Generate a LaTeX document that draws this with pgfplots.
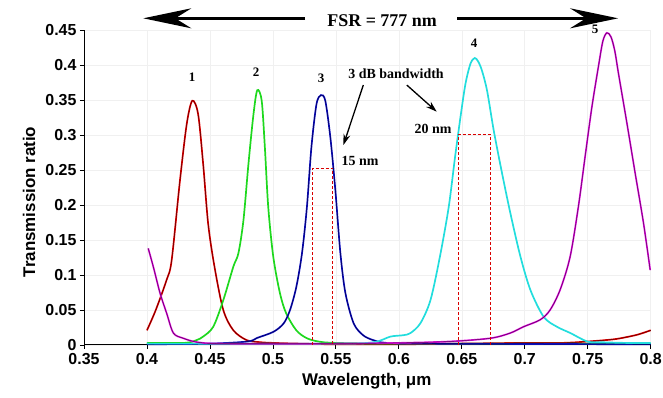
\documentclass[border=0pt]{standalone}
\usepackage{fontspec}
\setmainfont{Liberation Serif}
\setsansfont{Liberation Sans}
\usepackage{pgfplots}
\usepackage{pgfplotstable}
\pgfplotsset{compat=1.18}
\usetikzlibrary{arrows.meta}

\pgfplotstableread{
x y
0.400 0.021
0.407 0.050
0.4156 0.093
0.4196 0.121
0.4262 0.235
0.4316 0.316
0.4360 0.349
0.4406 0.330
0.4446 0.259
0.4486 0.173
0.4536 0.112
0.4606 0.050
0.4686 0.021
0.4791 0.007
0.490 0.004
0.500 0.003
0.520 0.002
0.550 0.001
0.600 0.001
0.650 0.002
0.700 0.003
0.730 0.003
0.750 0.005
0.770 0.008
0.780 0.011
0.790 0.015
0.800 0.021
}\dataA

\pgfplotstableread{
x y
0.400 0.003
0.430 0.003
0.4394 0.007
0.4446 0.012
0.4526 0.026
0.4606 0.064
0.4686 0.112
0.4726 0.131
0.4766 0.178
0.4806 0.259
0.4846 0.330
0.4876 0.364
0.4911 0.349
0.4936 0.283
0.4963 0.197
0.5003 0.126
0.5056 0.074
0.5106 0.045
0.5186 0.021
0.5266 0.010
0.536 0.005
0.550 0.003
0.600 0.002
0.800 0.002
}\dataB

\pgfplotstableread{
x y
0.400 0.001
0.450 0.002
0.480 0.005
0.4873 0.010
0.5006 0.019
0.5086 0.031
0.5136 0.050
0.5186 0.083
0.5231 0.131
0.5270 0.197
0.5306 0.283
0.5346 0.344
0.5382 0.357
0.5416 0.349
0.5456 0.297
0.5496 0.221
0.5536 0.131
0.5576 0.074
0.5641 0.031
0.5716 0.014
0.5796 0.007
0.590 0.003
0.620 0.002
0.800 0.001
}\dataC

\pgfplotstableread{
x y
0.400 0.002
0.550 0.002
0.580 0.004
0.5933 0.012
0.6036 0.014
0.6092 0.017
0.6171 0.031
0.6251 0.064
0.6326 0.126
0.6396 0.197
0.6446 0.268
0.6489 0.325
0.6529 0.373
0.6569 0.402
0.6603 0.410
0.6630 0.405
0.6660 0.392
0.6701 0.363
0.6754 0.306
0.6820 0.245
0.6886 0.188
0.6966 0.126
0.7046 0.078
0.7151 0.040
0.7256 0.026
0.7363 0.017
0.7496 0.005
0.760 0.004
0.780 0.003
0.800 0.003
}\dataD

\pgfplotstableread{
x y
0.401 0.138
0.405 0.112
0.4104 0.074
0.4157 0.045
0.421 0.017
0.4289 0.0096
0.440 0.004
0.460 0.002
0.550 0.002
0.600 0.003
0.640 0.005
0.6725 0.0096
0.6884 0.017
0.6989 0.026
0.7122 0.036
0.7201 0.050
0.7281 0.079
0.7360 0.126
0.7426 0.198
0.7479 0.269
0.7533 0.340
0.7585 0.398
0.7620 0.434
0.7652 0.446
0.7685 0.440
0.7715 0.420
0.7744 0.388
0.7811 0.317
0.7877 0.245
0.7943 0.174
0.7996 0.107
}\dataE

\definecolor{cRed}{HTML}{E80000}
\definecolor{cGreen}{HTML}{1ED81E}
\definecolor{cBlue}{HTML}{1010C8}
\definecolor{cCyan}{HTML}{22DDDD}
\definecolor{cMag}{HTML}{DD10DD}

\begin{document}
\begin{tikzpicture}
\useasboundingbox (0,0) rectangle (663bp,398bp);
\begin{axis}[
  at={(84bp,53bp)}, anchor=south west,
  scale only axis, width=566.7bp, height=315bp,
  xmin=0.35, xmax=0.8, ymin=0, ymax=0.45,
  xtick={0.35,0.4,0.45,0.5,0.55,0.6,0.65,0.7,0.75,0.8},
  ytick={0,0.05,0.1,0.15,0.2,0.25,0.3,0.35,0.4,0.45},
  axis lines*=left,
  axis line style={line width=1bp, black},
  tick align=outside, major tick length=4bp,
  tick style={line width=0.8bp, black},
  grid=major, grid style={draw=gray!12, line width=0.6bp},
  /pgf/number format/assume math mode=true,
  /pgf/number format/fixed,
  tick label style={font=\sffamily\bfseries\fontsize{16}{16}\selectfont},
  xticklabel style={yshift=-1bp},
  xlabel={Wavelength, μm},
  ylabel={Transmission ratio},
  label style={font=\sffamily\bfseries\fontsize{17}{17}\selectfont},
  xlabel style={at={(axis description cs:0.499,-0.114)}, anchor=center},
  ylabel style={at={(axis description cs:-0.097,0.454)}, anchor=center},
  clip=false,
  no markers,
]
\addplot[cRed, line width=1.7bp, smooth] table {\dataA};
\addplot[black!70!red, line width=0.5bp, smooth] table {\dataA};
\addplot[cGreen, line width=1.7bp, smooth] table {\dataB};
\addplot[cBlue, line width=1.7bp, smooth] table {\dataC};
\addplot[black!70!blue, line width=0.5bp, smooth] table {\dataC};
\addplot[cCyan, line width=1.7bp, smooth] table {\dataD};
\addplot[cMag, line width=1.7bp, smooth] table {\dataE};
\addplot[black!60!cMag, line width=0.5bp, smooth] table {\dataE};

% 3 dB bandwidth boxes
\addplot[red!85!black, line width=0.8bp, dash pattern=on 3bp off 2bp] coordinates {(0.5313,0) (0.5313,0.2524) (0.5475,0.2524) (0.5475,0)};
\addplot[red!85!black, line width=0.8bp, dash pattern=on 3bp off 2bp] coordinates {(0.6473,0) (0.6473,0.301) (0.6725,0.301) (0.6725,0)};

% FSR arrows
\draw[line width=2.6bp, -{Stealth[length=48bp,width=20bp,inset=16bp]}] (axis cs:0.5255,0.4667) -- (axis cs:0.3971,0.4667);
\draw[line width=2.6bp, -{Stealth[length=48bp,width=20bp,inset=16bp]}] (axis cs:0.6463,0.4667) -- (axis cs:0.7741,0.4667);
\node[font=\bfseries\fontsize{18}{18}\selectfont] at (axis cs:0.5867,0.464) {FSR = 777 nm};

% peak numbers
\begin{scope}[every node/.style={font=\bfseries\fontsize{13}{13}\selectfont}]
\node at (axis cs:0.4358,0.383) {1};
\node at (axis cs:0.4866,0.389) {2};
\node at (axis cs:0.5382,0.381) {3};
\node at (axis cs:0.6598,0.431) {4};
\node at (axis cs:0.7559,0.451) {5};
\end{scope}

\begin{scope}[every node/.style={font=\bfseries\fontsize{14}{14}\selectfont}]
\node at (axis cs:0.5978,0.387) {3 dB bandwidth};
\node at (axis cs:0.5692,0.263) {15 nm};
\node at (axis cs:0.6272,0.309) {20 nm};
\end{scope}
\draw[line width=1.3bp, -{Stealth[length=11bp,width=7bp]}] (axis cs:0.5718,0.3714) -- (axis cs:0.556,0.2857);
\draw[line width=1.3bp, -{Stealth[length=11bp,width=7bp]}] (axis cs:0.6063,0.3714) -- (axis cs:0.6301,0.3333);
\end{axis}
\end{tikzpicture}
\end{document}
